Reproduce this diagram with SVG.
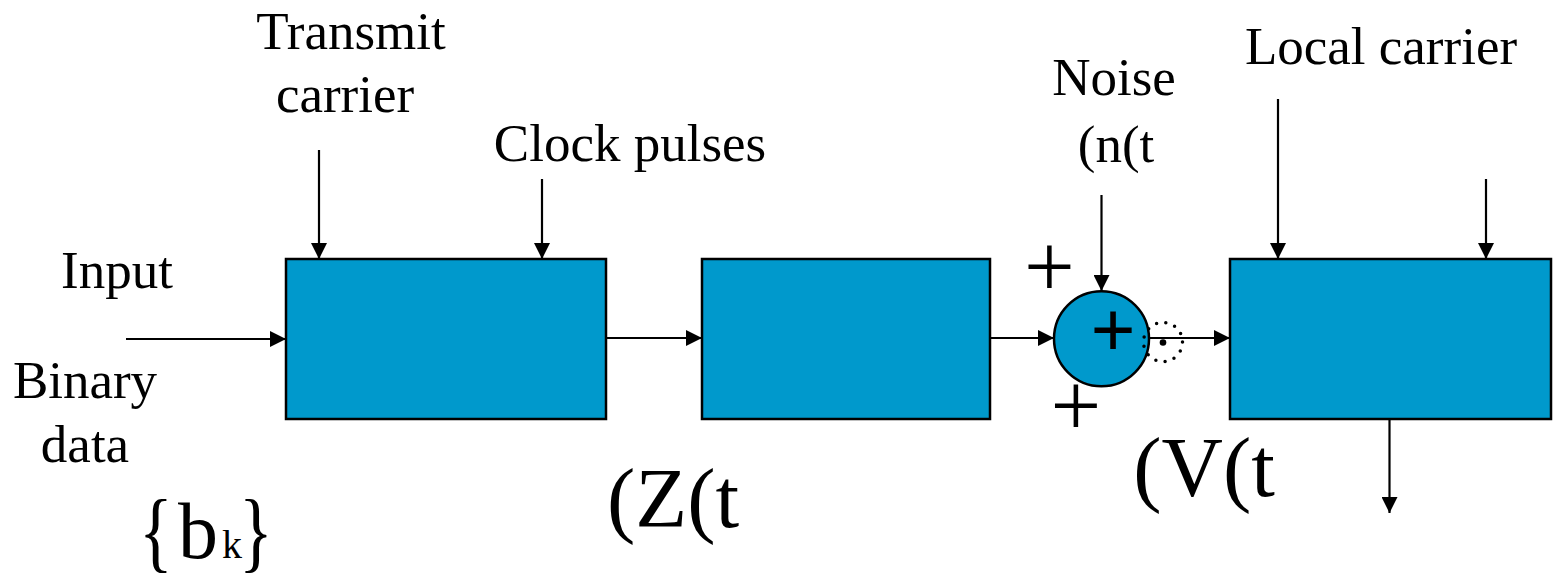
<svg xmlns="http://www.w3.org/2000/svg" width="1555" height="579" viewBox="0 0 1555 579">
<style>
.box{fill:#0099CC;stroke:#000;stroke-width:2.5}
.ln{stroke:#000;stroke-width:2.2;fill:none}
.t{font-family:"Liberation Serif","Times New Roman",serif;fill:#000;font-size:53px;text-anchor:middle}
.big{font-size:85px}
.pl{font-size:90px}
</style>
<defs>
<marker id="ah" markerUnits="userSpaceOnUse" markerWidth="16" markerHeight="16" refX="16" refY="8" orient="auto">
<path d="M0,0 L16,8 L0,16 z" fill="#000"/>
</marker>
</defs>
<rect width="1555" height="579" fill="#fff"/>
<g id="connectors">
<line class="ln" x1="126" y1="339" x2="286" y2="339" marker-end="url(#ah)"/>
<line class="ln" x1="319" y1="150" x2="319" y2="259" marker-end="url(#ah)"/>
<line class="ln" x1="542" y1="179" x2="542" y2="259" marker-end="url(#ah)"/>
<line class="ln" x1="606" y1="338" x2="702" y2="338" marker-end="url(#ah)"/>
<line class="ln" x1="990" y1="338" x2="1054" y2="338" marker-end="url(#ah)"/>
<line class="ln" x1="1101.5" y1="195" x2="1101.5" y2="291" marker-end="url(#ah)"/>
<line class="ln" x1="1149" y1="338" x2="1230" y2="338" marker-end="url(#ah)"/>
<line class="ln" x1="1278" y1="99" x2="1278" y2="259" marker-end="url(#ah)"/>
<line class="ln" x1="1486" y1="179" x2="1486" y2="259" marker-end="url(#ah)"/>
<line class="ln" x1="1389.5" y1="419" x2="1389.5" y2="513" marker-end="url(#ah)"/>
</g>
<g id="box1"><rect class="box" x="286" y="259" width="320" height="160"/></g>
<g id="box2"><rect class="box" x="702" y="259" width="288" height="160"/></g>
<g id="box3"><rect class="box" x="1230" y="259" width="321" height="160"/></g>
<g id="summer">
<circle cx="1101.5" cy="338.7" r="47.5" fill="#0099CC" stroke="#000" stroke-width="2.5"/>
<text class="t" x="1113" y="357" style="font-size:80px;font-weight:bold">+</text>
<circle cx="1163" cy="342" r="19.5" fill="none" stroke="#000" stroke-width="3.5" stroke-linecap="round" stroke-dasharray="0 9.42"/>
<circle cx="1163" cy="342.5" r="3.3" fill="#000"/>
</g>
<g id="labels">
<text class="t" x="351" y="49">Transmit</text>
<text class="t" x="345" y="112">carrier</text>
<text class="t" x="630" y="161">Clock pulses</text>
<text class="t" x="1114" y="95">Noise</text>
<text class="t" x="1116" y="162">(n(t</text>
<text class="t" x="1381" y="64">Local carrier</text>
<text class="t" x="117" y="288">Input</text>
<text class="t" x="85" y="398">Binary</text>
<text class="t" x="85" y="462">data</text>
<text class="t" x="0" y="561" transform="translate(156 0) scale(0.8 1)" style="font-size:88px">{</text>
<text class="t" x="198" y="558" style="font-size:80px">b</text>
<text class="t" x="232" y="558" style="font-size:40px">k</text>
<text class="t" x="0" y="561" transform="translate(256 0) scale(0.8 1)" style="font-size:88px">}</text>
<text class="t big" x="673" y="527">(Z(t</text>
<text class="t big" x="1204" y="496">(V(t</text>
<text class="t pl" x="1049.5" y="297">+</text>
<text class="t pl" x="1076" y="436">+</text>
</g>
</svg>
